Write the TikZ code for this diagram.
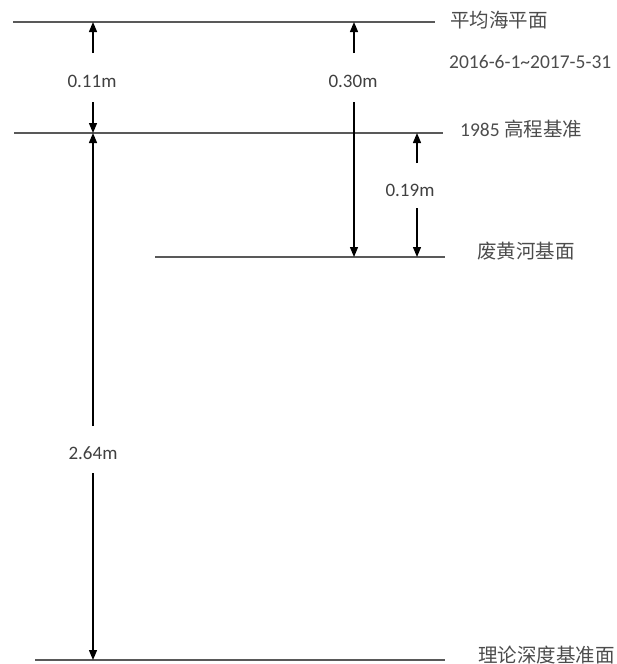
\documentclass[tikz,border=0pt]{standalone}
\usepackage{fontspec}
\setmainfont{Carlito}
\newfontfamily\cjk{Noto Sans CJK SC}
\usetikzlibrary{arrows.meta}
\begin{document}
\begin{tikzpicture}[x=1pt,y=-1pt,
  level/.style={draw=black!65,line width=1.8pt},
  dim/.style={draw=black,line width=1.3pt,-{Triangle[length=10pt,width=8pt]}},
  lbl/.style={anchor=west,inner sep=0pt,text=black!70,font=\fontsize{19.5}{22}\selectfont},
  val/.style={inner sep=0pt,text=black!75,font=\fontsize{19}{22}\selectfont}]
\useasboundingbox (0,0) rectangle (617,664);
% levels
\coordinate (L1a) at (13,22);  \coordinate (L1b) at (435,22);
\coordinate (L2a) at (14,133); \coordinate (L2b) at (443,133);
\coordinate (L3a) at (155,257);\coordinate (L3b) at (445,257);
\coordinate (L4a) at (35,660); \coordinate (L4b) at (445,660);
\draw[level] (L1a) -- (L1b);
\draw[level] (L2a) -- (L2b);
\draw[level] (L3a) -- (L3b);
\draw[level] (L4a) -- (L4b);
% level labels
\node[lbl] (t1) at (450,20) {\cjk 平均海平面};
\node[lbl] (t1d) at (449,62) {2016-6-1\textasciitilde 2017-5-31};
\node[lbl] (t2) at (460,129) {1985 {\cjk 高程基准}};
\node[lbl] (t3) at (477,251) {\cjk 废黄河基面};
\node[lbl] (t4) at (478,655) {\cjk 理论深度基准面};
% dimension labels
\node[val] (d1) at (92,81) {0.11m};
\node[val] (d2) at (353,81) {0.30m};
\node[val] (d3) at (410,190) {0.19m};
\node[val] (d4) at (93,453) {2.64m};
% arrow ends
\coordinate (a1s) at (93,53);   \coordinate (a1e) at (93,22);
\coordinate (b1s) at (93,102);  \coordinate (b1e) at (93,133);
\coordinate (a2s) at (354,53);  \coordinate (a2e) at (354,22);
\coordinate (b2s) at (354,102); \coordinate (b2e) at (354,257);
\coordinate (a3s) at (417,163); \coordinate (a3e) at (417,133);
\coordinate (b3s) at (417,208); \coordinate (b3e) at (417,257);
\coordinate (a4s) at (93,426);  \coordinate (a4e) at (93,133);
\coordinate (b4s) at (93,473);  \coordinate (b4e) at (93,660);
\draw[dim] (a1s) -- (a1e);
\draw[dim] (b1s) -- (b1e);
\draw[dim] (a2s) -- (a2e);
\draw[dim] (b2s) -- (b2e);
\draw[dim] (a3s) -- (a3e);
\draw[dim] (b3s) -- (b3e);
\draw[dim] (a4s) -- (a4e);
\draw[dim] (b4s) -- (b4e);
\end{tikzpicture}
\end{document}
